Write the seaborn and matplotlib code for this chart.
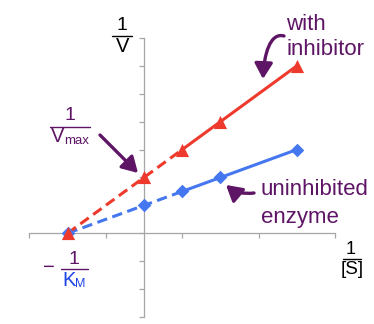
import matplotlib
matplotlib.use("Agg")
import matplotlib.pyplot as plt
import seaborn as sns
import pandas as pd
from matplotlib.patches import FancyArrowPatch
from matplotlib.path import Path
from matplotlib.lines import Line2D

# ---------------- data ----------------
inv_s = [-1.0, 0.0, 0.5, 1.0, 2.0]                 # 1/[S]
inv_v_uninhibited = [0.0, 1.0, 1.5, 2.0, 3.0]      # 1/V, uninhibited enzyme
inv_v_inhibitor = [0.0, 2.0, 3.0, 4.0, 6.0]        # 1/V, with inhibitor
measured_from = 0.5                                # x >= this: measured (solid), else extrapolated (dashed)
x_ticks = [-1.5, -0.5, 0.5, 1.5, 2.5]
y_ticks = list(range(-3, 8))
x_range = (-1.5, 2.5)
y_range = (-3, 7)

RED = "#EE3A2C"
BLUE = "#4477F0"
PURPLE = "#5F1566"
KBLUE = "#1F45E6"
GRAY = "#A6A6A6"

sns.set_style("white")
plt.rcParams['font.family'] = ['Liberation Sans', 'DejaVu Sans']

W, H = 374, 324
fig = plt.figure(figsize=(W / 100, H / 100), dpi=100)
fig.patch.set_facecolor("white")
ax = fig.add_axes([29.3 / W, 1 - 317 / H, (335 - 29.3) / W, (317 - 38) / H])
ax.patch.set_alpha(0)


def segments(name, ys):
    rows = []
    for x, y in zip(inv_s, ys):
        if x <= measured_from:
            rows.append(dict(x=x, y=y, series=name, part="extrapolated", key=name + "_e"))
        if x >= measured_from:
            rows.append(dict(x=x, y=y, series=name, part="measured", key=name + "_m"))
    return pd.DataFrame(rows)


dash_map = {"measured": "", "extrapolated": (3.4, 1.8)}
for name, ys, col in [("uninhibited", inv_v_uninhibited, BLUE),
                      ("inhibitor", inv_v_inhibitor, RED)]:
    seg = segments(name, ys)
    sns.lineplot(data=seg, x="x", y="y", style="part", units="key", estimator=None,
                 dashes=dash_map, color=col, lw=2.2, legend=False, sort=False, ax=ax)

pts_u = pd.DataFrame({"x": inv_s, "y": inv_v_uninhibited})
pts_i = pd.DataFrame({"x": inv_s, "y": inv_v_inhibitor})
sns.scatterplot(data=pts_u, x="x", y="y", marker="D", s=48, color=BLUE, linewidth=0,
                ax=ax, zorder=3, clip_on=False)
sns.scatterplot(data=pts_i, x="x", y="y", marker="^", s=90, color=RED, linewidth=0,
                ax=ax, zorder=4, clip_on=False)

# ---------------- axes ----------------
ax.set_xlim(*x_range)
ax.set_ylim(*y_range)
for s in ["top", "right"]:
    ax.spines[s].set_visible(False)
for s in ["left", "bottom"]:
    ax.spines[s].set_position(("data", 0))
    ax.spines[s].set_color(GRAY)
    ax.spines[s].set_linewidth(0.9)
ax.set_xticks(x_ticks)
ax.set_yticks(y_ticks)
ax.tick_params(bottom=True, left=True, direction="out", length=3.5, width=0.9,
               color=GRAY, labelbottom=False, labelleft=False)
ax.set_xlabel("")
ax.set_ylabel("")
ax.grid(False)


# ---------------- annotations (figure pixel coords, origin top-left) ----------------
def fp(x, y):
    return (x / W, 1 - y / H)


def ftext(x, y, s, **kw):
    kw.setdefault("ha", "center")
    kw.setdefault("va", "center")
    fig.text(*fp(x, y), s, **kw)


def fbar(x0, x1, y, color, lw=1.0):
    fig.add_artist(Line2D([x0 / W, x1 / W], [1 - y / H] * 2, transform=fig.transFigure,
                          color=color, lw=lw))


def farrow(verts, codes, **kw):
    p = Path([fp(*v) for v in verts], codes)
    fig.add_artist(FancyArrowPatch(path=p, transform=fig.transFigure, **kw))


# axis labels 1/V and 1/[S]
ftext(121.5, 25, "1", fontsize=14, color="black")
fbar(112, 132, 35.5, "black", 1.0)
ftext(123, 46.5, "V", fontsize=14.5, color="black")

ftext(351, 249, "1", fontsize=13, color="black")
fbar(343, 361, 259, "black", 1.0)
ftext(352, 270, "[S]", fontsize=13.5, color="black")

# 1/Vmax
ftext(70, 115, "1", fontsize=14, color=PURPLE)
fbar(50, 90, 127, PURPLE, 1.0)
ftext(58, 136, "V", fontsize=14.5, color=PURPLE)
ftext(77, 141, "max", fontsize=9.5, color=PURPLE)

# -1/KM
ftext(49, 267.5, "\u2212", fontsize=14.5, color=PURPLE)
ftext(73.5, 260, "1", fontsize=14, color=PURPLE)
fbar(61, 88, 269, PURPLE, 1.0)
ftext(69, 280, "K", fontsize=14.5, color=KBLUE)
ftext(80, 284, "M", fontsize=9, color=KBLUE)

# series labels
ftext(286, 30, "with", fontsize=16, color=PURPLE, ha="left", va="baseline")
ftext(286, 55, "inhibitor", fontsize=16, color=PURPLE, ha="left", va="baseline")
ftext(261, 195, "uninhibited", fontsize=16, color=PURPLE, ha="left", va="baseline")
ftext(261, 223, "enzyme", fontsize=16, color=PURPLE, ha="left", va="baseline")

# arrows
arrow_kw = dict(color=PURPLE, lw=2.4, mutation_scale=17,
                arrowstyle="-|>,head_length=0.55,head_width=0.32")
farrow([(100, 135), (138, 173)], [Path.MOVETO, Path.LINETO], **arrow_kw)
farrow([(284, 36), (270, 32), (264, 55), (263, 79)],
       [Path.MOVETO, Path.CURVE4, Path.CURVE4, Path.CURVE4], **arrow_kw)
farrow([(254, 193), (238, 195), (226, 185)],
       [Path.MOVETO, Path.CURVE3, Path.CURVE3], **arrow_kw)

fig.savefig("out.png", dpi=100, facecolor="white")
